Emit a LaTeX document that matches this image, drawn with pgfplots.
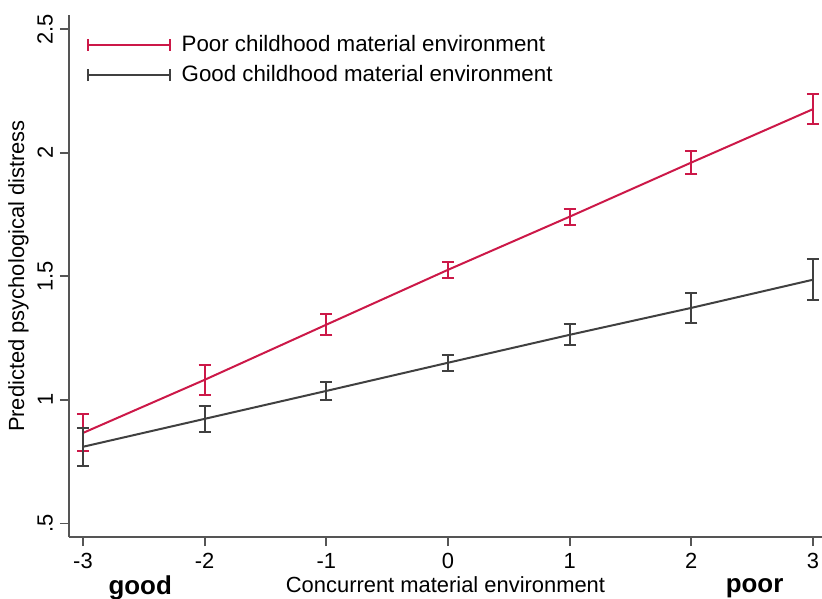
\documentclass[border=0pt]{standalone}
\usepackage{fontspec}
\setmainfont{Liberation Sans}
\usepackage{pgfplots}
\pgfplotsset{compat=1.18}
\definecolor{poorc}{RGB}{204,24,72}
\definecolor{goodc}{RGB}{64,64,64}
\definecolor{axc}{RGB}{85,85,85}
\begin{document}
\begin{tikzpicture}
\useasboundingbox (0,0) rectangle (411bp,299.5bp);
\begin{axis}[
  at={(34.5bp,31bp)}, anchor=south west,
  scale only axis, width=376.5bp, height=261bp,
  xmin=-3.115, xmax=3.074, ymin=0.445, ymax=2.557,
  axis x line*=bottom, axis y line*=left,
  axis line style={axc, line width=0.9bp, -},
  xtick={-3,-2,-1,0,1,2,3}, xticklabels={-3,-2,-1,0,1,2,3},
  ytick={0.5,1,1.5,2,2.5}, yticklabels={.5,1,1.5,2,2.5},
  tick style={axc, line width=0.9bp}, tick align=outside, major tick length=4.5bp,
  xticklabel style={font=\fontsize{11}{13}\selectfont},
  yticklabel style={rotate=90, anchor=south, font=\fontsize{11}{13}\selectfont},
  xlabel={Concurrent material environment},
  ylabel={Predicted psychological distress},
  label style={font=\fontsize{11}{13}\selectfont},
  xlabel style={yshift=3bp},
  ylabel style={yshift=-2.5bp},
  clip=false,
  legend style={at={(axis description cs:0.015,0.977)}, anchor=north west, draw=none, fill=none,
    font=\fontsize{11.2}{13}\selectfont, row sep=1.5bp},
  legend cell align=left,
  legend image code/.code={
    \draw[#1] (0bp,0bp) -- (41bp,0bp);
    \draw[#1] (0bp,-3bp) -- (0bp,3bp);
    \draw[#1] (41bp,-3bp) -- (41bp,3bp);
    \path (44.5bp,0bp);
  },
]
\addplot[poorc, line width=1bp, mark=none,
  error bars/.cd, y dir=both, y explicit,
  error bar style={line width=1bp},
  error mark options={rotate=90, mark size=3bp, line width=1bp}]
  table[x=x, y=y, y error=e] {
x y e
-3 0.866 0.075
-2 1.081 0.060
-1 1.304 0.042
0 1.526 0.032
1 1.741 0.032
2 1.960 0.045
3 2.176 0.062
};
\addlegendentry{Poor childhood material environment}
\addplot[goodc, line width=1bp, mark=none,
  error bars/.cd, y dir=both, y explicit,
  error bar style={line width=1bp},
  error mark options={rotate=90, mark size=3bp, line width=1bp}]
  table[x=x, y=y, y error=e] {
x y e
-3 0.810 0.077
-2 0.923 0.053
-1 1.036 0.036
0 1.150 0.033
1 1.263 0.042
2 1.372 0.060
3 1.486 0.083
};
\addlegendentry{Good childhood material environment}
\node[font=\bfseries\fontsize{13}{15}\selectfont] at (axis cs:-2.53,0.239) {good};
\node[font=\bfseries\fontsize{13}{15}\selectfont] at (axis cs:2.52,0.239) {poor};
\end{axis}
\end{tikzpicture}
\end{document}
